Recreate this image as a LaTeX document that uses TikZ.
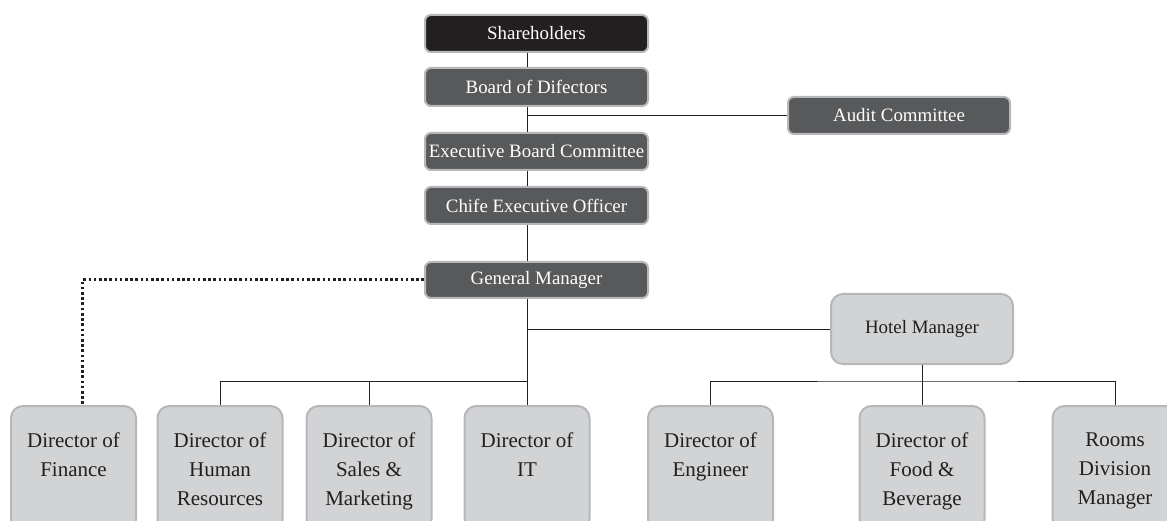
\documentclass[tikz,border=0pt]{standalone}
\usepackage{fontspec}
\setmainfont{Liberation Serif}
\usetikzlibrary{calc}
\definecolor{blk}{HTML}{231F20}
\definecolor{dgray}{HTML}{58595B}
\definecolor{lgray}{HTML}{D1D3D4}
\definecolor{bord}{HTML}{B5B7BA}
\tikzset{
  darkbox/.style={draw=bord, line width=2pt, fill=dgray, rounded corners=6pt,
    minimum width=223pt, minimum height=37pt, inner sep=0pt, text=white,
    font=\fontsize{18.9}{22}\selectfont},
  blackbox/.style={darkbox, fill=blk},
  lightbox/.style={draw=bord, line width=2pt, fill=lgray, rounded corners=12pt,
    inner sep=0pt},
  btmbox/.style={lightbox, minimum width=125pt, minimum height=125pt, anchor=north},
  btmtext/.style={anchor=north, inner sep=0pt, align=center, text=blk,
    font=\fontsize{21}{29}\selectfont},
  conn/.style={line width=1pt, draw=blk},
  dotconn/.style={line width=3pt, draw=blk, dash pattern=on 2.6pt off 2.6pt}
}
\begin{document}
\begin{tikzpicture}[x=1pt,y=-1pt]
\useasboundingbox (0,0) rectangle (1167,521);
\clip (0,0) rectangle (1167,521);
\coordinate (spine) at (527,0);
\coordinate (bus) at (527,381);
\coordinate (hbus) at (922,381);

\node[blackbox] (sh) at (536.5,33.5) {Shareholders};
\node[darkbox, minimum height=38pt] (bd) at (536.5,87) {Board of Difectors};
\node[darkbox, minimum width=222pt] (au) at (899,115.5) {Audit Committee};
\node[darkbox] (ebc) at (536.5,151.5) {Executive Board Committee};
\node[darkbox] (ceo) at (536.5,205.5) {Chife Executive Officer};
\node[darkbox, minimum height=36pt] (gm) at (536.5,280) {General Manager};
\node[lightbox, minimum width=182pt, minimum height=70pt, text=blk,
  font=\fontsize{18.9}{22}\selectfont] (hm) at (922,329) {Hotel Manager};

\node[btmbox] (fin) at (73.5,405) {};
\node[btmbox] (hr) at (220,405) {};
\node[btmbox] (sal) at (369,405) {};
\node[btmbox] (it) at (527,405) {};
\node[btmbox] (eng) at (710.5,405) {};
\node[btmbox] (fb) at (922,405) {};
\node[btmbox] (rdm) at (1115,405) {};

\node[btmtext] (tfin) at ($(fin.north)+(0,27.5)$) {Director of\\Finance};
\node[btmtext] (thr) at ($(hr.north)+(0,27.5)$) {Director of\\Human\\Resources};
\node[btmtext] (tsal) at ($(sal.north)+(0,27.5)$) {Director of\\Sales \&\\Marketing};
\node[btmtext] (tit) at ($(it.north)+(0,27.5)$) {Director of\\IT};
\node[btmtext] (teng) at ($(eng.north)+(0,27.5)$) {Director of\\Engineer};
\node[btmtext] (tfb) at ($(fb.north)+(0,27.5)$) {Director of\\Food \&\\Beverage};
\node[btmtext] (trdm) at ($(rdm.north)+(0,27.5)$) {Rooms\\Division\\Manager};

\draw[conn] (spine |- sh.south) -- (spine |- bd.north);
\draw[conn] (spine |- bd.south) -- (spine |- ebc.north);
\draw[conn] (spine |- au.west) -- (au.west);
\draw[conn] (spine |- ebc.south) -- (spine |- ceo.north);
\draw[conn] (spine |- ceo.south) -- (spine |- gm.north);
\draw[conn] (spine |- gm.south) -- (it.north);
\draw[conn] (spine |- hm.west) -- (hm.west);
\draw[conn] (hr.north) |- (bus);
\draw[conn] (sal.north) -- (sal.north |- bus);
\draw[conn] (hm.south) -- (fb.north);
\draw[conn] (eng.north) |- (hbus) -| (rdm.north);
\draw[dotconn] (gm.west) -| ([xshift=9pt]fin.north);
\end{tikzpicture}
\end{document}
